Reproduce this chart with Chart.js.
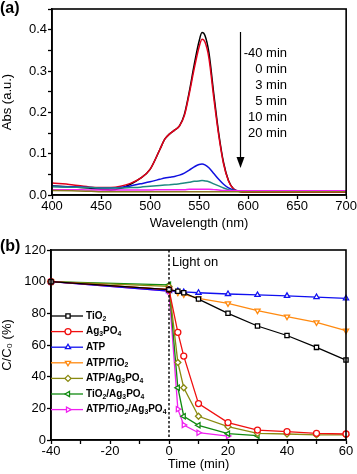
<!DOCTYPE html>
<html>
<head>
<meta charset="utf-8">
<script src="https://cdn.jsdelivr.net/npm/chart.js@4.4.1/dist/chart.umd.min.js"></script>
<style>
  html, body { margin: 0; padding: 0; background: #fff; }
  #wrap { position: relative; width: 357px; height: 474px; overflow: hidden; }
  canvas { position: absolute; left: 0; }
  #chartA { top: 0; }
  #chartB { top: 232px; }
</style>
</head>
<body>
<div id="wrap">
  <canvas id="chartA" width="357" height="232"></canvas>
  <canvas id="chartB" width="357" height="242"></canvas>
</div>
<script>
// ---- Panel (a): absorption spectra ----
const wavelengths = [400, 420, 440, 450, 460, 470, 480, 490, 500, 510, 515, 520, 525, 530, 535, 540, 545, 550, 553, 556, 560, 565, 570, 575, 580, 585, 590, 600, 650, 700];
const absM40 = [0.022, 0.02, 0.016, 0.014, 0.012, 0.016, 0.026, 0.04, 0.062, 0.11, 0.135, 0.148, 0.157, 0.167, 0.195, 0.25, 0.315, 0.372, 0.393, 0.386, 0.345, 0.245, 0.15, 0.078, 0.035, 0.015, 0.009, 0.007, 0.007, 0.007];
const abs0 = [0.029, 0.025, 0.019, 0.018, 0.018, 0.021, 0.028, 0.04, 0.062, 0.11, 0.135, 0.148, 0.157, 0.167, 0.192, 0.245, 0.305, 0.358, 0.377, 0.37, 0.332, 0.235, 0.145, 0.075, 0.034, 0.015, 0.009, 0.007, 0.007, 0.007];
const abs3 = [0.021, 0.02, 0.018, 0.017, 0.017, 0.018, 0.022, 0.027, 0.032, 0.038, 0.041, 0.043, 0.045, 0.048, 0.053, 0.06, 0.068, 0.074, 0.075, 0.073, 0.066, 0.052, 0.038, 0.026, 0.017, 0.012, 0.01, 0.009, 0.009, 0.009];
const abs5 = [0.02, 0.019, 0.018, 0.017, 0.017, 0.017, 0.018, 0.019, 0.021, 0.023, 0.024, 0.025, 0.026, 0.027, 0.029, 0.031, 0.033, 0.034, 0.035, 0.034, 0.032, 0.027, 0.022, 0.017, 0.013, 0.011, 0.01, 0.009, 0.009, 0.009];
const abs10 = [0.013, 0.013, 0.012, 0.012, 0.012, 0.012, 0.012, 0.012, 0.012, 0.013, 0.013, 0.013, 0.013, 0.013, 0.013, 0.014, 0.014, 0.014, 0.014, 0.014, 0.014, 0.013, 0.012, 0.011, 0.011, 0.01, 0.01, 0.01, 0.01, 0.01];
const abs20 = [0.011, 0.01, 0.009, 0.008, 0.008, 0.008, 0.008, 0.008, 0.008, 0.008, 0.008, 0.008, 0.008, 0.008, 0.008, 0.008, 0.008, 0.008, 0.008, 0.008, 0.008, 0.008, 0.008, 0.008, 0.008, 0.008, 0.008, 0.008, 0.008, 0.008];
const spectraLabels = ["-40 min", "0 min", "3 min", "5 min", "10 min", "20 min"];
const spectraColors = ["#000000", "#e3001b", "#1010e0", "#1f8a80", "#f020f0", "#8a7a20"];

// ---- Panel (b): C/C0 vs time ----
const times = [-40, 0, 3, 5, 10, 20, 30, 40, 50, 60];
const cTiO2 = [100, 95, 94, 93, 89, 80, 72, 66, 58.5, 50.5];
const cAg3PO4 = [100, 95, 68, 53, 23, 11, 6.3, 5.3, 4.2, 3.8];
const cATP = [100, 94, 94, 93.5, 93, 92.2, 91.6, 91, 90.3, 89.5];
const cATPTiO2 = [100, 95, 93, 92, 89.5, 86.3, 81.7, 77.9, 74.3, 69.1];
const cATPAg3PO4 = [100, 97, 49, 33, 15, 8.4, 4.2, 3.8, 3.2, 3.2];
const cTiO2Ag3PO4 = [100, 98, 33, 15, 9.3, 4, 2.7, null, null, null];
const cATPTiO2Ag3PO4 = [100, 94, 19.5, 9.5, 4.6, 2.5, null, null, null, null];
const catalystLabels = ["TiO_2", "Ag_3PO_4", "ATP", "ATP/TiO_2", "ATP/Ag_3PO_4", "TiO_2/Ag_3PO_4", "ATP/TiO_2/Ag_3PO_4"];
const catalystColors = ["#000000", "#f01010", "#1010f0", "#ff8a10", "#8a8a10", "#108a10", "#f020f0"];
const catalystMarkers = [["rect", 0], ["circle", 0], ["triangle", 0], ["triangle", 180], ["rectRot", 0], ["triangle", -90], ["triangle", 90]];

const FONT = '"Liberation Sans", Arial, "DejaVu Sans", sans-serif';

// Текст с подстрочными индексами вида "TiO_2"
const drawRich = (ctx, text, x, y, size, weight) => {
  let parts = text.split(/(_\d)/).filter((p) => p);
  ctx.textBaseline = "middle";
  ctx.textAlign = "left";
  let cx = x;
  parts.forEach((p) => {
    if (p[0] === "_") {
      ctx.font = weight + " " + size * 0.68 + "px " + FONT;
      ctx.fillText(p[1], cx, y + size * 0.28);
      cx += ctx.measureText(p[1]).width;
    } else {
      ctx.font = weight + " " + size + "px " + FONT;
      ctx.fillText(p, cx, y);
      cx += ctx.measureText(p).width;
    }
  });
};

// рамка вокруг области графика
const framePlugin = {
  id: "frame",
  afterDatasetsDraw(chart) {
    const { ctx, chartArea: a } = chart;
    ctx.save();
    ctx.strokeStyle = "#000";
    ctx.lineWidth = 1.6;
    ctx.strokeRect(a.left, a.top, a.right - a.left, a.bottom - a.top);
    ctx.restore();
  },
};

const panelLabelPlugin = {
  id: "panelLabel",
  afterDraw(chart, args, opts) {
    const ctx = chart.ctx;
    ctx.save();
    ctx.fillStyle = "#000";
    ctx.font = "bold 16px " + FONT;
    ctx.textBaseline = "middle";
    ctx.textAlign = "left";
    ctx.fillText(opts.text, opts.x, opts.y);
    ctx.restore();
  },
};

// стрелка и подписи времени на панели (a)
const arrowPlugin = {
  id: "arrow",
  afterDraw(chart) {
    const ctx = chart.ctx;
    ctx.save();
    ctx.strokeStyle = "#000";
    ctx.fillStyle = "#000";
    ctx.lineWidth = 1.2;
    ctx.beginPath();
    ctx.moveTo(240.5, 32);
    ctx.lineTo(240.5, 160);
    ctx.stroke();
    ctx.beginPath();
    ctx.moveTo(236.5, 157);
    ctx.lineTo(244.5, 157);
    ctx.lineTo(240.5, 168);
    ctx.closePath();
    ctx.fill();
    ctx.font = "13px " + FONT;
    ctx.textAlign = "right";
    ctx.textBaseline = "middle";
    spectraLabels.forEach((t, i) => {
      ctx.fillText(t, 287, 53 + i * 16);
    });
    ctx.restore();
  },
};

// пунктир "Light on" и легенда на панели (b)
const lightPlugin = {
  id: "lightOn",
  afterDatasetsDraw(chart) {
    const { ctx, chartArea: a } = chart;
    const x0 = chart.scales.x.getPixelForValue(0);
    ctx.save();
    ctx.strokeStyle = "#000";
    ctx.lineWidth = 1.4;
    ctx.setLineDash([2.5, 2]);
    ctx.beginPath();
    ctx.moveTo(x0, a.top);
    ctx.lineTo(x0, a.bottom);
    ctx.stroke();
    ctx.setLineDash([]);
    ctx.fillStyle = "#000";
    ctx.font = "13px " + FONT;
    ctx.textAlign = "left";
    ctx.textBaseline = "middle";
    ctx.fillText("Light on", x0 + 3, a.top + 12);
    ctx.restore();
  },
  afterDraw(chart) {
    const { ctx, chartArea: a } = chart;
    ctx.save();
    catalystLabels.forEach((lab, i) => {
      const y = 84 + i * 15.6;
      ctx.strokeStyle = catalystColors[i];
      ctx.lineWidth = 1.3;
      ctx.beginPath();
      ctx.moveTo(a.left, y);
      ctx.lineTo(a.left + 32, y);
      ctx.stroke();
      ctx.fillStyle = "#fff";
      Chart.helpers.drawPoint(
        ctx,
        { pointStyle: catalystMarkers[i][0], rotation: catalystMarkers[i][1], radius: 3, borderWidth: 1.3 },
        a.left + 17,
        y
      );
      ctx.fillStyle = "#000";
      drawRich(ctx, lab, a.left + 35, y, 10, "bold");
    });
    ctx.restore();
  },
};

const tickFont = { family: FONT, size: 13 };
const titleFont = { family: FONT, size: 13 };
const gridCfg = {
  drawOnChartArea: false,
  drawTicks: true,
  tickLength: 4,
  tickColor: "#000",
  tickWidth: 1.3,
};

// ---- chart (a) ----
const spectra = [absM40, abs0, abs3, abs5, abs10, abs20];
new Chart(document.getElementById("chartA"), {
  type: "line",
  data: {
    datasets: spectra.map((arr, i) => ({
      label: spectraLabels[i],
      data: wavelengths.map((w, j) => ({ x: w, y: arr[j] })),
      borderColor: spectraColors[i],
      borderWidth: 1.5,
      pointRadius: 0,
      cubicInterpolationMode: "monotone",
    })).reverse(),
  },
  options: {
    responsive: false,
    animation: false,
    layout: { padding: { left: 0, top: 9, right: 10, bottom: 0 } },
    plugins: {
      legend: { display: false },
      tooltip: { enabled: false },
      panelLabel: { text: "(a)", x: 0, y: 9 },
    },
    scales: {
      x: {
        type: "linear",
        min: 400,
        max: 700,
        afterFit: (s) => { s.height = 37; },
        ticks: {
          stepSize: 25,
          color: "#000",
          font: tickFont,
          padding: 0,
          maxRotation: 0,
          callback: (v) => (v % 50 === 0 ? v : ""),
        },
        grid: gridCfg,
        border: { color: "#000", width: 1.6 },
        title: { display: true, text: "Wavelength (nm)", color: "#000", font: titleFont, padding: { top: 0, bottom: 1 } },
      },
      y: {
        min: 0,
        max: 0.45,
        afterFit: (s) => { s.width = 52; },
        ticks: {
          stepSize: 0.05,
          color: "#000",
          font: tickFont,
          padding: 1,
          callback: (v) => (Math.round(v * 100) % 10 === 0 ? v.toFixed(1) : ""),
        },
        grid: gridCfg,
        border: { color: "#000", width: 1.6 },
        title: { display: true, text: "Abs (a.u.)", color: "#000", font: titleFont, padding: { top: 0, bottom: 2 } },
      },
    },
  },
  plugins: [framePlugin, panelLabelPlugin, arrowPlugin],
});

// ---- chart (b) ----
const series = [cTiO2, cAg3PO4, cATP, cATPTiO2, cATPAg3PO4, cTiO2Ag3PO4, cATPTiO2Ag3PO4];
new Chart(document.getElementById("chartB"), {
  type: "line",
  data: {
    datasets: series.map((arr, i) => ({
      label: catalystLabels[i],
      data: times.map((t, j) => ({ x: t, y: arr[j] })).filter((p) => p.y !== null),
      borderColor: catalystColors[i],
      backgroundColor: "#fff",
      borderWidth: 1.3,
      pointStyle: catalystMarkers[i][0],
      rotation: catalystMarkers[i][1],
      pointRadius: 3,
      pointBorderWidth: 1.3,
      tension: 0,
      clip: false,
    })),
  },
  options: {
    responsive: false,
    animation: false,
    layout: { padding: { left: 0, top: 18, right: 11, bottom: 0 } },
    plugins: {
      legend: { display: false },
      tooltip: { enabled: false },
      panelLabel: { text: "(b)", x: 0, y: 15 },
    },
    scales: {
      x: {
        type: "linear",
        min: -40,
        max: 60,
        afterFit: (s) => { s.height = 34; },
        ticks: {
          stepSize: 10,
          color: "#000",
          font: tickFont,
          padding: 0,
          maxRotation: 0,
          callback: (v) => (v % 20 === 0 ? v : ""),
        },
        grid: gridCfg,
        border: { color: "#000", width: 1.6 },
        title: { display: true, text: "Time (min)", color: "#000", font: titleFont, padding: { top: 0, bottom: 2 } },
      },
      y: {
        min: 0,
        max: 120,
        afterFit: (s) => { s.width = 51; },
        ticks: {
          stepSize: 10,
          color: "#000",
          font: tickFont,
          padding: 1,
          callback: (v) => (v % 20 === 0 ? v : ""),
        },
        grid: gridCfg,
        border: { color: "#000", width: 1.6 },
        title: { display: true, text: "C/C₀ (%)", color: "#000", font: titleFont, padding: { top: 0, bottom: 2 } },
      },
    },
  },
  plugins: [framePlugin, panelLabelPlugin, lightPlugin],
});
</script>
</body>
</html>
